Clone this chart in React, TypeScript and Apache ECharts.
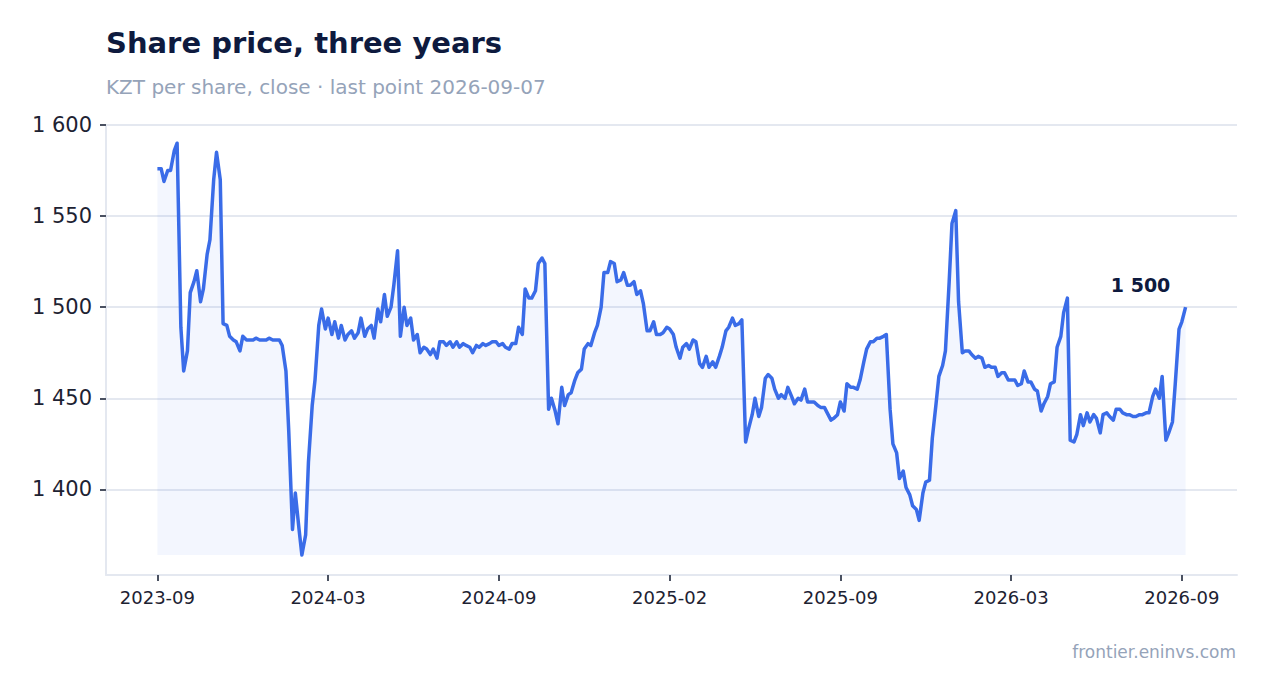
import React, { useEffect, useRef } from "react";
import * as echarts from "echarts";

const TITLE = "Share price, three years";
const SUBTITLE = "KZT per share, close · last point 2026-09-07";
const SOURCE = "frontier.eninvs.com";

// Close prices, KZT, two observations per week (Mon / Thu), 2023-09-07 .. 2026-09-07
const pricesA = [
  1576, 1576, 1569, 1575, 1575, 1586, 1590, 1489, 1465, 1476,
  1508, 1514, 1520, 1503, 1510, 1529, 1537, 1570, 1585, 1570,
  1491, 1490, 1484, 1482, 1481, 1476, 1484, 1482, 1482, 1482,
  1483, 1482, 1482, 1482, 1483, 1482, 1482, 1482, 1479, 1465,
  1432, 1378, 1398, 1378, 1364, 1375, 1415, 1446, 1460, 1490,
  1499, 1488, 1494, 1485, 1492, 1483, 1490, 1482, 1485, 1487,
  1483, 1486, 1494, 1484, 1488, 1490, 1483, 1499, 1492, 1507,
  1495, 1500, 1512, 1531, 1484, 1500, 1490, 1494, 1482, 1485,
  1475, 1478, 1477, 1474, 1477, 1472, 1481, 1481, 1479, 1481,
  1478, 1481, 1478, 1480, 1479, 1478, 1475, 1479, 1478, 1480,
  1479, 1480, 1481, 1481,
];
const pricesB = [
  1479, 1480, 1478, 1477, 1480, 1480,
  1489, 1485, 1510, 1505, 1505, 1509, 1524, 1527, 1524, 1444,
  1450, 1443, 1436, 1456, 1446, 1452, 1453, 1460, 1464, 1466,
  1477, 1480, 1479, 1486, 1490, 1500, 1519, 1519, 1525, 1524,
  1514, 1515, 1519, 1512, 1512, 1514, 1507, 1509, 1502, 1487,
  1487, 1492, 1485, 1485, 1486, 1489, 1488, 1485, 1478, 1472,
  1478, 1480, 1477, 1482, 1481, 1469, 1467, 1473, 1467, 1470,
  1467, 1473, 1478, 1487, 1489, 1494, 1490, 1491, 1493, 1426,
  1433, 1441, 1450, 1440, 1445, 1461, 1463, 1461, 1455, 1450,
  1452, 1450, 1456, 1451, 1447, 1450, 1449, 1455, 1448, 1448,
  1448, 1446, 1445, 1445, 1442, 1438, 1439, 1441,
];
const pricesC = [
  1448, 1443,
  1458, 1456, 1456, 1455, 1460, 1470, 1477, 1481, 1481, 1483,
  1483, 1484, 1485, 1444, 1425, 1420, 1406, 1410, 1401, 1397,
  1391, 1389, 1383, 1398, 1404, 1405, 1428, 1447, 1462, 1468,
  1476, 1514, 1546, 1553, 1503, 1475, 1476, 1476, 1474, 1472,
  1473, 1472, 1467, 1468, 1467, 1467, 1462, 1464, 1464, 1460,
  1460, 1460, 1457, 1458, 1465, 1459, 1459, 1455, 1454, 1443,
  1447, 1451, 1458, 1459, 1478, 1484, 1497, 1505, 1427, 1426,
  1430, 1441, 1435, 1442, 1437, 1441, 1439, 1431, 1441, 1442,
  1440, 1438, 1444, 1444, 1442, 1441, 1441, 1440, 1440, 1441,
  1441, 1442, 1442, 1451, 1455, 1450, 1462, 1427, 1431, 1437,
  1458, 1488, 1492, 1500,
];

const FIRST_DATE = "2023-09-07";
const xTickLabels = ["2023-09", "2024-03", "2024-09", "2025-02", "2025-09", "2026-03", "2026-09"];
const yTicks = [1400, 1450, 1500, 1550, 1600];

const prices = [...pricesA, ...pricesB, ...pricesC];

function buildDates(start: string, n: number): string[] {
  const out: string[] = [];
  const d = new Date(start + "T00:00:00Z");
  for (let i = 0; i < n; i++) {
    out.push(d.toISOString().slice(0, 10));
    // Thu -> Mon (+4), Mon -> Thu (+3)
    d.setUTCDate(d.getUTCDate() + (d.getUTCDay() === 4 ? 4 : 3));
  }
  return out;
}

const dates = buildDates(FIRST_DATE, prices.length);
const LABEL_STEP = 52;
const times = dates.map((s) => Date.parse(s + "T00:00:00Z"));
const xTickTimes = xTickLabels.map((_, j) => times[j * LABEL_STEP]);

const fmt = (v: number) => String(Math.round(v)).replace(/\B(?=(\d{3})+(?!\d))/g, " ");

const FONT = "DejaVu Sans";
const NAVY = "#0e1a3e";
const MUTED = "#95a3b9";
const TEXT = "#1d2232";
const LINE = "#3a6ce8";
const GRID = "#e4e8f0";
const TICK = "#4a5161";

export default function App() {
  const ref = useRef<HTMLDivElement>(null);

  useEffect(() => {
    document.body.style.margin = "0";
    if (!ref.current) return;
    const chart = echarts.init(ref.current, undefined, { renderer: "svg" });
    const minVal = Math.min(...prices);
    const lastIdx = prices.length - 1;
    const span = times[lastIdx] - times[0];
    const pad = span * 0.05;

    chart.setOption({
      animation: false,
      backgroundColor: "#ffffff",
      textStyle: { fontFamily: FONT },
      title: [
        {
          text: TITLE,
          left: 106,
          top: 28,
          padding: 0,
          textStyle: { fontFamily: FONT, fontSize: 29, fontWeight: "bold", color: NAVY },
        },
        {
          text: SUBTITLE,
          left: 106,
          top: 77,
          padding: 0,
          textStyle: { fontFamily: FONT, fontSize: 20, fontWeight: "normal", color: MUTED },
        },
        {
          text: SOURCE,
          right: 32,
          top: 643,
          padding: 0,
          textStyle: { fontFamily: FONT, fontSize: 17, fontWeight: "normal", color: MUTED },
        },
      ],
      grid: { left: 106, right: 31, top: 125, bottom: 118, containLabel: false },
      xAxis: {
        type: "value",
        min: times[0] - pad,
        max: times[lastIdx] + pad,
        axisLine: { show: true, lineStyle: { color: GRID, width: 2 } },
        axisTick: { show: true, length: 6, customValues: xTickTimes, lineStyle: { color: TICK, width: 2 } },
        axisLabel: {
          customValues: xTickTimes,
          margin: 13,
          fontSize: 18,
          color: TEXT,
          fontFamily: FONT,
          hideOverlap: false,
          showMinLabel: true,
          showMaxLabel: true,
          formatter: (value: number) => {
            const j = xTickTimes.indexOf(value);
            return j >= 0 ? xTickLabels[j] : "";
          },
        },
        splitLine: { show: false },
      },
      yAxis: {
        type: "value",
        min: 1353,
        max: 1600,
        axisLine: { show: true, lineStyle: { color: GRID, width: 2 } },
        axisTick: { show: true, length: 6, customValues: yTicks, lineStyle: { color: TICK, width: 2 } },
        axisLabel: {
          customValues: yTicks,
          margin: 14,
          fontSize: 21,
          color: TEXT,
          fontFamily: FONT,
          formatter: (v: number) => fmt(v),
        },
        splitLine: { show: true, lineStyle: { color: GRID, width: 2 } },
      },
      series: [
        {
          type: "line",
          data: times.map((t, i) => [t, prices[i]]),
          showSymbol: false,
          symbol: "none",
          lineStyle: { color: LINE, width: 3.5, join: "round" },
          areaStyle: { color: "rgba(58,108,232,0.09)", origin: minVal },
          markPoint: {
            symbol: "circle",
            symbolSize: 1,
            itemStyle: { color: "rgba(0,0,0,0)" },
            data: [{ coord: [times[lastIdx], prices[lastIdx]], value: prices[lastIdx] }],
            label: {
              show: true,
              position: "inside",
              offset: [-45, -22],
              fontFamily: FONT,
              fontSize: 19,
              fontWeight: "bold",
              color: NAVY,
              formatter: (p: any) => fmt(p.value),
            },
          },
        },
      ],
    });

    return () => chart.dispose();
  }, []);

  return <div ref={ref} style={{ width: 1268, height: 693 }} />;
}
